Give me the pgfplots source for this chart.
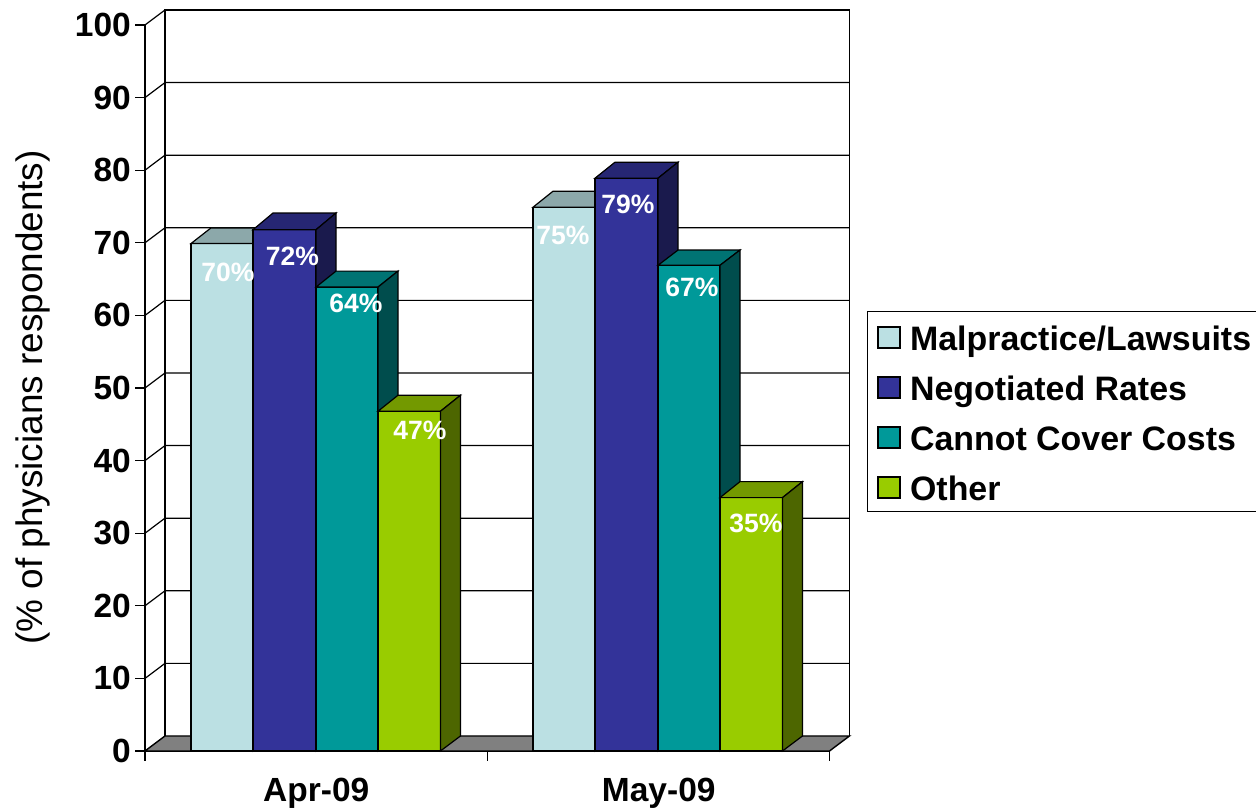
\documentclass[border=0pt]{standalone}
\usepackage{pgfplots}
\pgfplotsset{compat=1.18}
\usepackage{fontspec}
\setmainfont{Liberation Sans}
\definecolor{lightF}{HTML}{BBE0E3}\definecolor{lightT}{HTML}{8CA8AA}\definecolor{lightS}{HTML}{5E7072}
\definecolor{navyF}{HTML}{333399}\definecolor{navyT}{HTML}{262673}\definecolor{navyS}{HTML}{1A1A4D}
\definecolor{tealF}{HTML}{009999}\definecolor{tealT}{HTML}{007373}\definecolor{tealS}{HTML}{004D4D}
\definecolor{greenF}{HTML}{99CC00}\definecolor{greenT}{HTML}{739900}\definecolor{greenS}{HTML}{4D6600}
\newcommand{\fs}[1]{\fontsize{#1}{#1}\selectfont}
\begin{document}
\begin{tikzpicture}[x=1pt,y=1pt]
\useasboundingbox (0,0) rectangle (1256,811);
\begin{axis}[
  at={(145pt,60pt)}, anchor=south west,
  scale only axis, width=684.5pt, height=726pt,
  xmin=145, xmax=829.5, ymin=0, ymax=100,
  clip=false,
  every axis plot/.append style={forget plot},
  axis x line*=bottom, axis y line*=left,
  axis line style={-, line width=1.4pt, black},
  ytick={0,10,...,100},
  xtick={316.25,658.75}, xticklabels={Apr-09,May-09},
  minor xtick={145,487.5,829.5},
  tick align=outside,
  major tick length=10pt, minor tick length=10pt,
  every major x tick/.style={draw=none},
  every tick/.append style={black, line width=1.2pt},
  /pgf/number format/assume math mode=true,
  yticklabel style={font=\fs{33.5}\bfseries, inner sep=0pt, xshift=-4pt},
  xticklabel style={font=\fs{33.5}\bfseries, yshift=-14pt},
  ylabel={(\% of physicians respondents)},
  ylabel style={font=\fs{36.9}, at={(axis description cs:-0.164,0.487)}, anchor=center, rotate=0},
  legend style={at={(axis cs:866.7,60.65)}, anchor=north west, draw=black, line width=1.4pt,
    font=\fs{33.9}\bfseries, fill=white, inner xsep=10pt, inner ysep=11.4pt,
    row sep=22.4pt, column sep=9.5pt,
    nodes={inner sep=0pt, text height=27.6pt, text depth=0pt, anchor=west},
    legend cell align=left},
  legend image code/.code={\draw[#1, line width=1.2pt, draw=black] (0pt,-11.5pt) rectangle (22pt,9.5pt);},
]
% floor
\addplot[fill=gray, draw=black, line width=1.4pt] coordinates {(145,0)(165,2.07)(849.5,2.07)(829.5,0)} -- cycle;
% left wall diagonals and back-wall gridlines
\addplot[black, line width=1.2pt] coordinates {(145,10)(165,12.07)(849.5,12.07)};
\addplot[black, line width=1.2pt] coordinates {(145,20)(165,22.07)(849.5,22.07)};
\addplot[black, line width=1.2pt] coordinates {(145,30)(165,32.07)(849.5,32.07)};
\addplot[black, line width=1.2pt] coordinates {(145,40)(165,42.07)(849.5,42.07)};
\addplot[black, line width=1.2pt] coordinates {(145,50)(165,52.07)(849.5,52.07)};
\addplot[black, line width=1.2pt] coordinates {(145,60)(165,62.07)(849.5,62.07)};
\addplot[black, line width=1.2pt] coordinates {(145,70)(165,72.07)(849.5,72.07)};
\addplot[black, line width=1.2pt] coordinates {(145,80)(165,82.07)(849.5,82.07)};
\addplot[black, line width=1.2pt] coordinates {(145,90)(165,92.07)(849.5,92.07)};
\addplot[black, line width=1.2pt] coordinates {(145,100)(165,102.07)(849.5,102.07)};
% wall frame
\addplot[black, line width=1.5pt] coordinates {(165,2.07)(165,102.07)(849.5,102.07)(849.5,2.07)};
% Apr-09 bars
\addplot[fill=lightF, draw=black, line width=1.2pt] coordinates {(191,0)(253,0)(253,69.9)(191,69.9)} -- cycle;
\addplot[fill=lightT, draw=black, line width=1.2pt] coordinates {(191,69.9)(253,69.9)(273,72.05)(211,72.05)} -- cycle;
\addplot[fill=lightS, draw=black, line width=1.2pt] coordinates {(253,0)(273,2.07)(273,72.05)(253,69.9)} -- cycle;
\addplot[fill=navyF, draw=black, line width=1.2pt] coordinates {(253,0)(316,0)(316,71.8)(253,71.8)} -- cycle;
\addplot[fill=navyT, draw=black, line width=1.2pt] coordinates {(253,71.8)(316,71.8)(336,74.1)(273,74.1)} -- cycle;
\addplot[fill=navyS, draw=black, line width=1.2pt] coordinates {(316,0)(336,2.07)(336,74.1)(316,71.8)} -- cycle;
\addplot[fill=tealF, draw=black, line width=1.2pt] coordinates {(316,0)(378,0)(378,63.9)(316,63.9)} -- cycle;
\addplot[fill=tealT, draw=black, line width=1.2pt] coordinates {(316,63.9)(378,63.9)(398,66.1)(336,66.1)} -- cycle;
\addplot[fill=tealS, draw=black, line width=1.2pt] coordinates {(378,0)(398,2.07)(398,66.1)(378,63.9)} -- cycle;
\addplot[fill=greenF, draw=black, line width=1.2pt] coordinates {(378,0)(440.5,0)(440.5,46.8)(378,46.8)} -- cycle;
\addplot[fill=greenT, draw=black, line width=1.2pt] coordinates {(378,46.8)(440.5,46.8)(460.5,49)(398,49)} -- cycle;
\addplot[fill=greenS, draw=black, line width=1.2pt] coordinates {(440.5,0)(460.5,2.07)(460.5,49)(440.5,46.8)} -- cycle;
% May-09 bars
\addplot[fill=lightF, draw=black, line width=1.2pt] coordinates {(533,0)(595,0)(595,74.9)(533,74.9)} -- cycle;
\addplot[fill=lightT, draw=black, line width=1.2pt] coordinates {(533,74.9)(595,74.9)(615,77.1)(553,77.1)} -- cycle;
\addplot[fill=lightS, draw=black, line width=1.2pt] coordinates {(595,0)(615,2.07)(615,77.1)(595,74.9)} -- cycle;
\addplot[fill=navyF, draw=black, line width=1.2pt] coordinates {(595,0)(658,0)(658,78.9)(595,78.9)} -- cycle;
\addplot[fill=navyT, draw=black, line width=1.2pt] coordinates {(595,78.9)(658,78.9)(678,81.1)(615,81.1)} -- cycle;
\addplot[fill=navyS, draw=black, line width=1.2pt] coordinates {(658,0)(678,2.07)(678,81.1)(658,78.9)} -- cycle;
\addplot[fill=tealF, draw=black, line width=1.2pt] coordinates {(658,0)(720,0)(720,66.9)(658,66.9)} -- cycle;
\addplot[fill=tealT, draw=black, line width=1.2pt] coordinates {(658,66.9)(720,66.9)(740,69)(678,69)} -- cycle;
\addplot[fill=tealS, draw=black, line width=1.2pt] coordinates {(720,0)(740,2.07)(740,69)(720,66.9)} -- cycle;
\addplot[fill=greenF, draw=black, line width=1.2pt] coordinates {(720,0)(782.5,0)(782.5,34.9)(720,34.9)} -- cycle;
\addplot[fill=greenT, draw=black, line width=1.2pt] coordinates {(720,34.9)(782.5,34.9)(802.5,37.1)(740,37.1)} -- cycle;
\addplot[fill=greenS, draw=black, line width=1.2pt] coordinates {(782.5,0)(802.5,2.07)(802.5,37.1)(782.5,34.9)} -- cycle;
% data labels
\tikzset{dl/.style={font=\fs{26.5}\bfseries, text=white, inner sep=0pt, anchor=center}}
\node[dl] at (axis cs:228,65.98) {70\%};
\node[dl] at (axis cs:292.5,68.2) {72\%};
\node[dl] at (axis cs:356,61.6) {64\%};
\node[dl] at (axis cs:420,44.1) {47\%};
\node[dl] at (axis cs:563,71) {75\%};
\node[dl] at (axis cs:628,75.3) {79\%};
\node[dl] at (axis cs:692,63.9) {67\%};
\node[dl] at (axis cs:756,31.3) {35\%};
\addlegendimage{fill=lightF}\addlegendentry{Malpractice/Lawsuits}
\addlegendimage{fill=navyF}\addlegendentry{Negotiated Rates}
\addlegendimage{fill=tealF}\addlegendentry{Cannot Cover Costs}
\addlegendimage{fill=greenF}\addlegendentry{Other}
\end{axis}
\end{tikzpicture}
\end{document}
